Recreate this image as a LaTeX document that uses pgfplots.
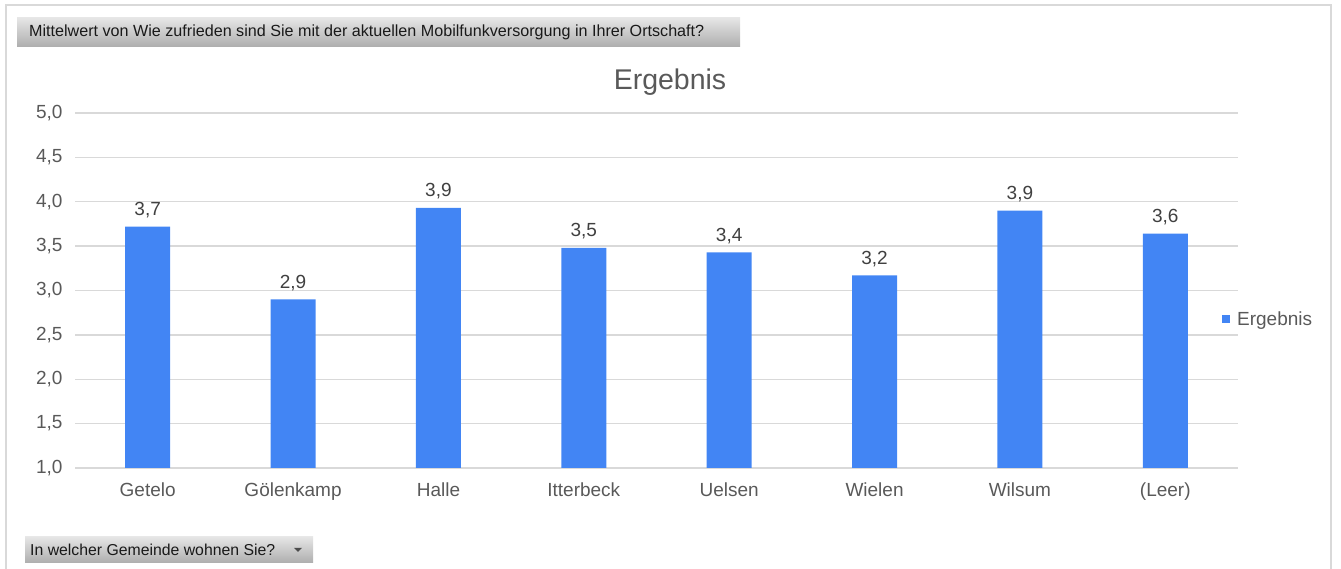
\documentclass[border=0pt]{standalone}
\usepackage{pgfplots}
\pgfplotsset{compat=1.18}
\usepackage{fontspec}
\setmainfont{Liberation Sans}
\definecolor{barblue}{HTML}{4285F4}
\definecolor{txt}{HTML}{595959}
\definecolor{lbl}{HTML}{404040}
\definecolor{gridc}{HTML}{D9D9D9}
\begin{document}
\begin{tikzpicture}[x=1pt,y=1pt]
\useasboundingbox (0,0) rectangle (1341,569);
\draw[color=gridc, line width=2pt] (6,-5) -- (6,564) -- (1331,564) -- (1331,-5);
% header field button
\shade[top color=black!10, bottom color=black!32] (17,522) rectangle (740,551);
\node[anchor=west, inner sep=0, text=black!90] at (29,536.5) {\resizebox{675pt}{!}{\fontsize{14}{14}\selectfont Mittelwert von Wie zufrieden sind Sie mit der aktuellen Mobilfunkversorgung in Ihrer Ortschaft?}};
% bottom field button
\shade[top color=black!10, bottom color=black!32] (25,6) rectangle (313,32);
\node[anchor=west, inner sep=0, text=black!90] at (30,19) {\resizebox{245pt}{!}{\fontsize{14}{14}\selectfont In welcher Gemeinde wohnen Sie?}};
\fill[black!70] (294,21) -- (302,21) -- (298,17) -- cycle;
% title
\node[text=txt, font=\fontsize{28.5}{32}\selectfont] at (670,487) {Ergebnis};
\begin{axis}[
  at={(75pt,101pt)}, anchor=south west,
  scale only axis, width=1163pt, height=355pt,
  clip=false,
  ybar, bar width=45pt,
  xmin=-0.5, xmax=7.5, ymin=1, ymax=5,
  ytick={1,1.5,2,2.5,3,3.5,4,4.5,5},
  xtick=data,
  xticklabels={Getelo,Gölenkamp,Halle,Itterbeck,Uelsen,Wielen,Wilsum,(Leer)},
  major tick length=0pt,
  axis line style={draw=none},
  ymajorgrids,
  grid style={gridc, line width=1.3pt},
  y tick label style={text=txt, font=\fontsize{19}{22}\selectfont, xshift=-9pt},
  yticklabel={\pgfmathprintnumber[assume math mode=true,fixed,fixed zerofill,precision=1,use comma]{\tick}},
  x tick label style={text=txt, font=\fontsize{19}{22}\selectfont, yshift=-11pt},
  nodes near coords,
  nodes near coords style={text=lbl, font=\fontsize{19}{22}\selectfont, yshift=5pt,
    /pgf/number format/.cd, fixed, fixed zerofill, precision=1, use comma, assume math mode=true},
  legend style={draw=none, fill=none, at={(0.9862,0.42)}, anchor=west, inner sep=0pt,
    font=\fontsize{19}{22}\selectfont, text=txt},
  legend image code/.code={\fill[barblue] (0pt,-3.7pt) rectangle (7.5pt,3.7pt); \path (13pt,0pt);},
]
\addplot[fill=barblue, draw=none] coordinates {
  (0,3.72) (1,2.90) (2,3.93) (3,3.48) (4,3.43) (5,3.17) (6,3.90) (7,3.64)
};
\addlegendentry{Ergebnis}
\end{axis}
\end{tikzpicture}
\end{document}
